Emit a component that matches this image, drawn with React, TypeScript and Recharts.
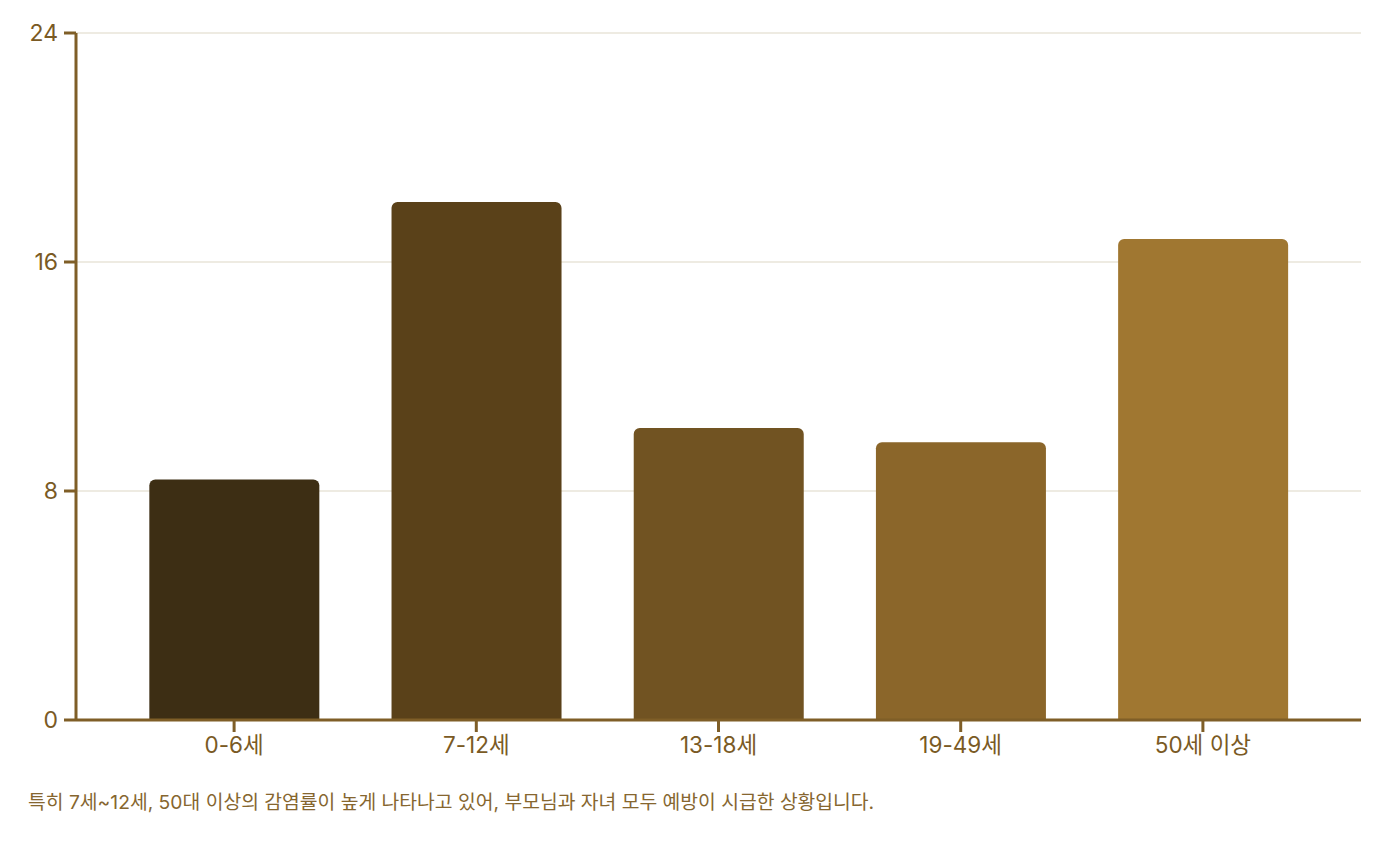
import React from 'react';
import { BarChart, Bar, XAxis, YAxis, CartesianGrid, Cell } from 'recharts';

// age groups and infection rate (%)
const ageGroups = ['0-6세', '7-12세', '13-18세', '19-49세', '50세 이상'];
const rates = [8.4, 18.1, 10.2, 9.7, 16.8];
const barColors = ['#3D2E14', '#5A4119', '#715322', '#8B662A', '#A07731'];
const yTicks = [0, 8, 16, 24];

const caption = '특히 7세~12세, 50대 이상의 감염률이 높게 나타나고 있어, 부모님과 자녀 모두 예방이 시급한 상황입니다.';

const data = ageGroups.map((g, i) => ({ group: g, rate: rates[i] }));

const axisColor = '#7F5E27';
const textColor = '#7A5A24';
const fontFamily = 'Inter, "Noto Sans CJK KR", sans-serif';

export default function App() {
  return (
    <div style={{ width: 1384, fontFamily }}>
      <BarChart
        width={1384}
        height={770}
        data={data}
        margin={{ top: 25, right: 31, left: 8, bottom: 10 }}
        barCategoryGap="15%"
      >
        <CartesianGrid vertical={false} stroke="#E9E5D8" strokeWidth={1.5} />
        <XAxis
          dataKey="group"
          height={48}
          padding={{ left: 37, right: 37 }}
          stroke={axisColor}
          strokeWidth={3}
          tickSize={12}
          tickMargin={5}
          tick={{ fill: textColor, fontSize: 22.5, fontFamily }}
        />
        <YAxis
          width={60}
          domain={[0, 24]}
          ticks={yTicks}
          stroke={axisColor}
          strokeWidth={3}
          tickSize={12}
          tickMargin={6}
          tick={{ fill: textColor, fontSize: 23, fontFamily }}
        />
        <Bar dataKey="rate" radius={[6, 6, 0, 0]} isAnimationActive={false}>
          {data.map((d, i) => (
            <Cell key={d.group} fill={barColors[i]} />
          ))}
        </Bar>
      </BarChart>
      <div style={{ marginTop: 12, paddingLeft: 20, fontSize: 19.3, lineHeight: '24px', color: '#86662F' }}>
        {caption}
      </div>
    </div>
  );
}
